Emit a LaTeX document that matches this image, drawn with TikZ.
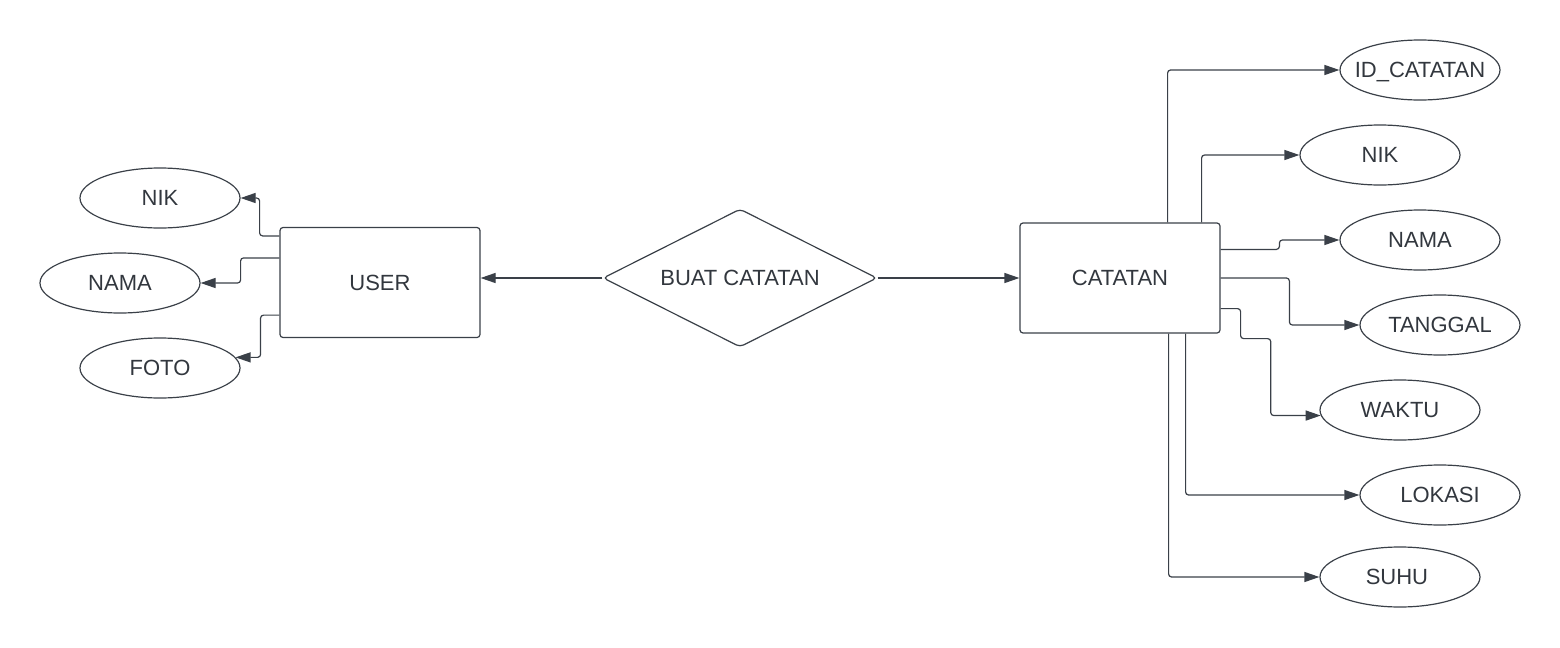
\documentclass[tikz,border=0pt]{standalone}
\usepackage{fontspec}
\setmainfont{Liberation Sans}
\usetikzlibrary{arrows.meta, shapes.geometric}
\definecolor{linegray}{RGB}{58,64,72}
\definecolor{textgray}{RGB}{50,55,62}
\tikzset{
    entity/.style={draw=linegray, text=textgray, rounded corners=1.5pt, line width=0.6pt, minimum width=100pt, minimum height=55pt, inner sep=0pt}, % 实体的样式
    attr/.style={draw=linegray, text=textgray, ellipse, line width=0.6pt, minimum width=80pt, minimum height=30pt, inner sep=0pt, text height=7.8pt, text depth=0pt}, % 属性的样式
    relation/.style={draw=linegray, text=textgray, diamond, aspect=2, rounded corners=2pt, line width=0.6pt, minimum width=137pt, minimum height=69pt, inner sep=0pt}, % 关系的样式
    conn/.style={draw=linegray, line width=0.6pt, rounded corners=1.5pt, -{Triangle[length=7.5pt, width=5pt]}} % 连线的样式
}

\begin{document}
\begin{tikzpicture}[x=0.5pt, y=-0.5pt, font=\fontsize{11}{13}\selectfont]
    \useasboundingbox (0,0) rectangle (1560,648);

    \node[entity] (user) at (380,282.5) {USER};
    \node[entity] (catatan) at (1120,278) {CATATAN};
    \node[relation] (buat) at (740,278) {BUAT CATATAN};

    \foreach \name / \pos / \labelText in {
        nikU/{(160,198)}/NIK,
        namaU/{(120,283)}/NAMA,
        fotoU/{(160,368)}/FOTO,
        idc/{(1420,70)}/ID\_CATATAN,
        nikC/{(1380,155)}/NIK,
        namaC/{(1420,240)}/NAMA,
        tgl/{(1440,325)}/TANGGAL,
        waktu/{(1400,410)}/WAKTU,
        lokasi/{(1440,495)}/LOKASI,
        suhu/{(1400,577)}/SUHU
    } {
        \node[attr] (\name) at \pos {\makebox[0pt]{\labelText}};
    }

    % USER 的属性
    \draw[conn] ([shift={(0,9)}]user.north west) -| ([shift={(19,0)}]nikU.east) -- (nikU.east);
    \draw[conn] ([shift={(0,31)}]user.north west) -| ([shift={(40,0)}]namaU.east) -- (namaU.east);
    \draw[conn] ([shift={(0,-23)}]user.south west) -| ([shift={(25,0)}]fotoU.8) -- (fotoU.8);

    % 关系
    \draw[conn] (buat.west) -- (buat.west -| user.east);
    \draw[conn] (buat.east) -- (catatan.west);

    % CATATAN 的属性
    \draw[conn] ([shift={(-53,0)}]catatan.north east) |- (idc.west);
    \draw[conn] ([shift={(-19,0)}]catatan.north east) |- (nikC.west);
    \draw[conn] ([shift={(0,27)}]catatan.north east) -| ([shift={(-60,0)}]namaC.west) -- (namaC.west);
    \draw[conn] (catatan.east) -| ([shift={(-70,0)}]tgl.west) -- (tgl.west);
    \draw[conn] ([shift={(0,-25)}]catatan.south east) -| ++(20,30) -| ([shift={(-50,0)}]waktu.184) -- (waktu.184);
    \draw[conn] ([shift={(-35,0)}]catatan.south east) |- (lokasi.west);
    \draw[conn] ([shift={(-52,0)}]catatan.south east) |- (suhu.west);
\end{tikzpicture}
\end{document}
